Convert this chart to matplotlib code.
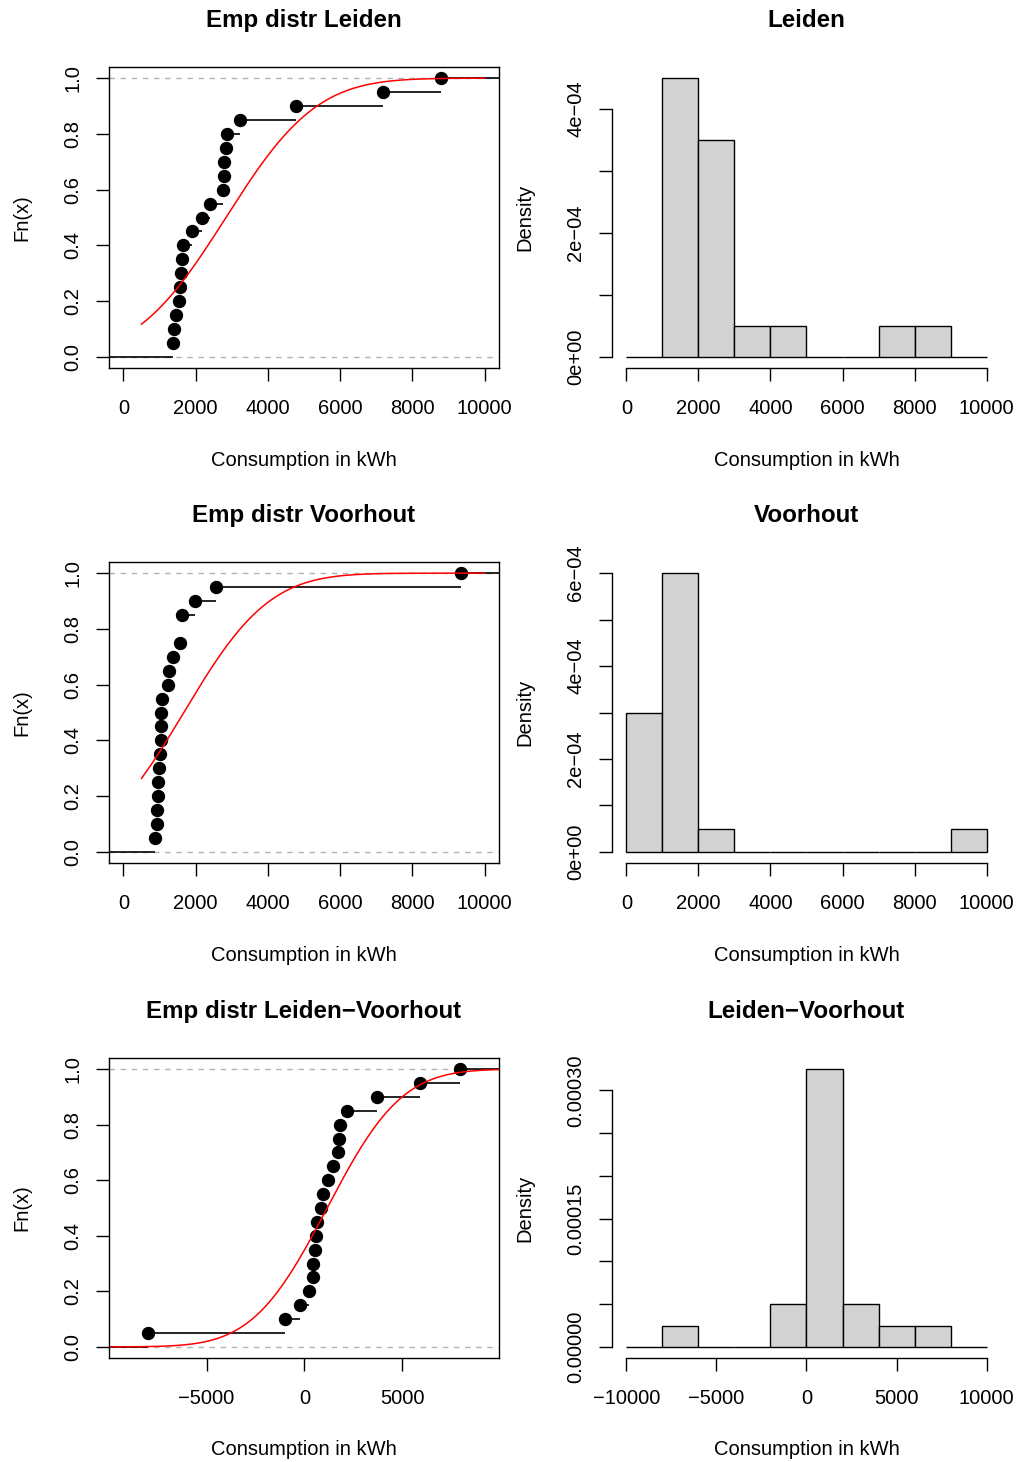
import math
import numpy as np
import matplotlib
matplotlib.use("Agg")
import matplotlib.pyplot as plt

plt.rcParams["font.family"] = ["Liberation Sans", "DejaVu Sans"]
plt.rcParams["axes.unicode_minus"] = True

# consumption values (kWh)
leiden = [1366, 1394, 1468, 1532, 1579, 1598, 1626, 1654, 1903, 2180,
          2410, 2762, 2780, 2798, 2844, 2872, 3241, 4792, 7183, 8790]
voorhout = [879, 925, 940, 954, 970, 980, 1005, 1040, 1045, 1053,
            1072, 1229, 1257, 1377, 1580, 1617, 1617, 1990, 2560, 9340]
diff = [-7977, -987, -220, 240, 430, 460, 547, 598, 650, 870,
        941, 1212, 1453, 1724, 1790, 1826, 2200, 3734, 5900, 7940]

names = ["Leiden", "Voorhout", "Leiden\u2212Voorhout"]
datasets = [leiden, voorhout, diff]
hist_bins = [np.arange(0, 10001, 1000), np.arange(0, 10001, 1000),
             np.arange(-10000, 10001, 2000)]

FS = 14.5
MINUS = "\u2212"


def fmt(v):
    s = f"{v:g}"
    return s.replace("-", MINUS)


def pnorm(x, m, s):
    return np.array([0.5 * (1 + math.erf((xi - m) / (s * math.sqrt(2)))) for xi in x])


fig = plt.figure(figsize=(10.2, 14.62), dpi=100)
W, H = 1020, 1462
rows = [(67, 368), (562, 863), (1058, 1358)]


def add_axes(x0, x1, y0, y1):
    return fig.add_axes([x0 / W, 1 - y1 / H, (x1 - x0) / W, (y1 - y0) / H])


for r, (name, data, bins) in enumerate(zip(names, datasets, hist_bins)):
    y0, y1 = rows[r]
    data = np.array(data, dtype=float)
    m, s = data.mean(), data.std(ddof=1)

    # ---- ECDF panel ----
    ax = add_axes(109, 499, y0, y1)
    if r < 2:
        xlim = (-400, 10400)
        xt = np.arange(0, 10001, 2000)
        cx = np.linspace(500, 10000, 400)
    else:
        lo, hi = data.min(), data.max()
        dr = 0.08 * (hi - lo)
        a, b = lo - dr, hi + dr
        ext = 0.04 * (b - a)
        xlim = (a - ext, b + ext)
        xt = np.array([-5000, 0, 5000])
        cx = np.linspace(-10000, 10000, 400)
    ax.set_xlim(*xlim)
    ax.set_ylim(-0.04, 1.04)

    ax.axhline(0, color="#B3B3B3", ls=(0, (4, 4)), lw=1)
    ax.axhline(1, color="#B3B3B3", ls=(0, (4, 4)), lw=1)

    knots, counts = np.unique(data, return_counts=True)
    F = np.cumsum(counts) / len(data)
    starts = np.concatenate([[-1e6], knots])
    ends = np.concatenate([knots, [1e6]])
    levels = np.concatenate([[0], F])
    ax.hlines(levels, starts, ends, color="black", lw=1.2)
    ax.plot(knots, F, "o", color="black", ms=8.6)

    ax.plot(cx, pnorm(cx, m, s), color="red", lw=1.1)

    ax.set_xticks(xt)
    ax.set_xticklabels([fmt(v) for v in xt], fontsize=FS)
    yt = np.arange(0, 1.01, 0.2)
    ax.set_yticks(yt)
    ax.set_yticklabels([f"{v:.1f}" for v in yt], fontsize=FS, rotation=90, va="center")
    ax.tick_params(direction="out", length=9.4, width=1)
    ax.tick_params(axis="x", pad=13)
    ax.tick_params(axis="y", pad=10)
    for sp in ax.spines.values():
        sp.set_linewidth(1)
    ax.text(0.5, 1.156, "Emp distr " + name, transform=ax.transAxes,
            ha="center", va="center", fontsize=17.4, fontweight="bold")
    ax.text(0.5, -0.306, "Consumption in kWh", transform=ax.transAxes,
            ha="center", va="center", fontsize=FS)
    ax.text(-0.223, 0.5, "Fn(x)", transform=ax.transAxes, rotation=90,
            ha="center", va="center", fontsize=FS)

    # ---- histogram panel ----
    hx = add_axes(612, 1001, y0, y1)
    dens, edges, _ = hx.hist(data, bins=bins, density=True, color="#D3D3D3",
                             edgecolor="black", linewidth=1)
    top = dens.max()
    hx.set_ylim(-0.04 * top, 1.04 * top)
    span = bins[-1] - bins[0]
    hx.set_xlim(bins[0] - 0.04 * span, bins[-1] + 0.04 * span)

    if r == 0:
        yt = np.arange(0, 4.01e-4, 1e-4)
        ylab = {0: "0e+00", 2: "2e" + MINUS + "04", 4: "4e" + MINUS + "04"}
        yl = [ylab.get(i, "") for i in range(len(yt))]
        xt = np.arange(0, 10001, 2000)
    elif r == 1:
        yt = np.arange(0, 6.01e-4, 1e-4)
        ylab = {0: "0e+00", 2: "2e" + MINUS + "04", 4: "4e" + MINUS + "04",
                6: "6e" + MINUS + "04"}
        yl = [ylab.get(i, "") for i in range(len(yt))]
        xt = np.arange(0, 10001, 2000)
    else:
        yt = np.arange(0, 3.01e-4, 0.5e-4)
        ylab = {0: "0.00000", 3: "0.00015", 6: "0.00030"}
        yl = [ylab.get(i, "") for i in range(len(yt))]
        xt = np.arange(-10000, 10001, 5000)
    hx.set_yticks(yt)
    hx.set_yticklabels(yl, fontsize=FS, rotation=90, va="center")
    hx.set_xticks(xt)
    hx.set_xticklabels([fmt(v) for v in xt], fontsize=FS)
    hx.spines["top"].set_visible(False)
    hx.spines["right"].set_visible(False)
    hx.spines["bottom"].set_bounds(xt[0], xt[-1])
    hx.spines["left"].set_bounds(yt[0], yt[-1])
    for sp in hx.spines.values():
        sp.set_linewidth(1)
    hx.tick_params(direction="out", length=9.4, width=1)
    hx.tick_params(axis="x", pad=13)
    hx.tick_params(axis="y", pad=10)
    hx.text(0.5, 1.156, name, transform=hx.transAxes,
            ha="center", va="center", fontsize=17.4, fontweight="bold")
    hx.text(0.5, -0.306, "Consumption in kWh", transform=hx.transAxes,
            ha="center", va="center", fontsize=FS)
    hx.text(-0.224, 0.5, "Density", transform=hx.transAxes, rotation=90,
            ha="center", va="center", fontsize=FS)

fig.savefig("out.png", dpi=100)
